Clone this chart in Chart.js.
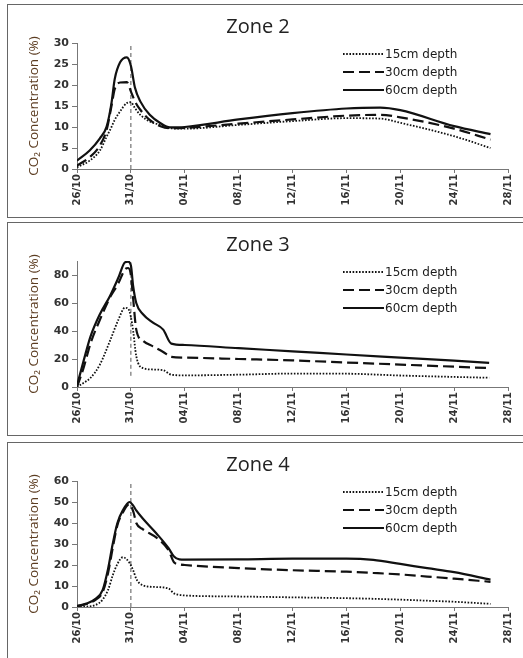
<!DOCTYPE html>
<html>
<head>
<meta charset="utf-8">
<script src="https://cdn.jsdelivr.net/npm/chart.js@4.4.0/dist/chart.umd.min.js"></script>
<style>
  body { margin: 0; background: #fff; width: 523px; height: 658px; overflow: hidden; position: relative; }
  .panel { position: absolute; left: 7px; width: 530px; border: 1px solid #666; background: #fff; }
  .panel canvas { display: block; }
</style>
</head>
<body>
<div class="panel" style="top:4px;height:212px"><canvas id="zone2" width="515" height="212"></canvas></div>
<div class="panel" style="top:222px;height:212px"><canvas id="zone3" width="515" height="212"></canvas></div>
<div class="panel" style="top:442px;height:240px"><canvas id="zone4" width="515" height="212"></canvas></div>
<script>
// x values are in axis units: 4 units between each date label
const dateLabels = ['26/10', '31/10', '04/11', '08/11', '12/11', '16/11', '20/11', '24/11', '28/11'];
const markerDay = 4; // 31/10

// Zone 2
const z2Days = [0, 0.94, 1.7, 2.2, 2.56, 2.8, 3.2, 3.7, 4.0, 4.3, 4.7, 5.4, 6.2, 6.9, 8, 12, 16, 20, 22.5, 24, 28, 30.7];
const z2Depth15 = [0.4, 2.0, 4.4, 7.7, 10, 11.7, 13.7, 15.7, 15.9, 14.5, 12.9, 11.3, 10.5, 9.7, 9.6, 10.5, 11.4, 12.1, 12.0, 11.0, 7.8, 5.0];
const z2Depth30 = [0.8, 2.8, 5.6, 9.3, 15, 19, 20.6, 20.7, 18.5, 16.1, 14.1, 11.7, 10.2, 9.7, 9.8, 10.8, 11.8, 12.7, 12.9, 12.3, 9.6, 7.0];
const z2Depth60 = [2.0, 4.4, 7.3, 10.1, 15.7, 21.4, 25.4, 26.6, 24.6, 19.4, 16.1, 12.9, 10.9, 9.9, 10.0, 11.8, 13.3, 14.4, 14.6, 14.0, 10.2, 8.3];
const z2Marker = [0, 30];

// Zone 3
const z3Days = [0, 0.5, 1.0, 1.7, 2.45, 3.07, 3.56, 3.8, 4.0, 4.17, 4.4, 4.9, 5.64, 6.4, 7.0, 8, 12, 16, 20, 24, 28, 30.6];
const z3Depth15 = [0, 3, 6.5, 16, 33, 48, 56.6, 56, 50, 40, 22, 13.5, 12.5, 12, 8.8, 8.3, 8.8, 9.6, 9.5, 8.2, 7.2, 6.6];
const z3Depth30 = [0, 14, 31, 48, 64, 74, 84, 85, 80, 63, 41, 33, 29, 25, 21.5, 21, 20, 19, 17.5, 16, 14.5, 13.5];
const z3Depth60 = [1, 19, 36, 52, 65, 78, 89, 89.5, 87, 72, 60, 52, 46, 41, 31, 30, 27.7, 25.5, 23.2, 21, 18.8, 17.3];
const z3Marker = [8, 89];

// Zone 4
const z4Days = [0, 0.7, 1.4, 1.9, 2.3, 2.65, 3.0, 3.4, 3.9, 4.2, 4.4, 4.9, 5.9, 6.8, 7.2, 7.6, 8, 12, 16, 20, 22, 24, 26, 28, 30.7];
const z4Depth15 = [0, 0.2, 1, 3.5, 8, 15, 20.5, 23.7, 21, 17, 13.4, 10.3, 9.5, 8.8, 6.5, 5.8, 5.5, 5, 4.6, 4.2, 3.9, 3.5, 3, 2.5, 1.5];
const z4Depth30 = [0.3, 1.4, 3.5, 7, 16, 28, 39, 45, 49, 45, 40, 37, 33, 27, 21.3, 20.3, 20, 18.5, 17.5, 16.8, 16.2, 15.5, 14.5, 13.5, 12];
const z4Depth60 = [0.5, 1.6, 4, 8, 18, 30, 40, 46, 50, 48, 46, 42, 35, 28, 24, 22.7, 22.6, 22.7, 23, 23, 22.4, 20.5, 18.5, 16.6, 13];
const z4Marker = [0, 60];

// legend drawn inside the plot, top right
const insideLegend = {
  id: 'insideLegend',
  afterDraw(chart) {
    const ctx = chart.ctx;
    ctx.save();
    ctx.font = '12px "DejaVu Sans"';
    ctx.fillStyle = '#1a1a1a';
    ctx.textBaseline = 'middle';
    let row = 0;
    chart.data.datasets.forEach(ds => {
      if (!ds.label) return;
      const y = 49 + row * 18;
      ctx.strokeStyle = ds.borderColor;
      ctx.lineWidth = ds.borderWidth;
      ctx.setLineDash(ds.borderDash);
      ctx.beginPath();
      ctx.moveTo(335, y);
      ctx.lineTo(376, y);
      ctx.stroke();
      ctx.setLineDash([]);
      ctx.fillText(ds.label, 377, y + 1);
      row++;
    });
    ctx.restore();
  }
};

function makeZone(id, title, days, d15, d30, d60, yMax, yStep, marker) {
  const pts = arr => days.map((d, i) => ({ x: d, y: arr[i] }));
  const line = (label, arr, dash, width) => ({
    label: label,
    data: pts(arr),
    borderColor: '#111',
    borderWidth: width,
    borderDash: dash,
    pointRadius: 0,
    cubicInterpolationMode: 'monotone',
    fill: false
  });

  return new Chart(document.getElementById(id), {
    type: 'line',
    data: {
      datasets: [
        line('15cm depth', d15, [1.6, 1.6], 1.8),
        line('30cm depth', d30, [11, 5], 2.2),
        line('60cm depth', d60, [], 2.2),
        {
          data: [{ x: markerDay, y: marker[0] }, { x: markerDay, y: marker[1] }],
          borderColor: '#555',
          borderWidth: 1,
          borderDash: [4, 3],
          pointRadius: 0
        }
      ]
    },
    options: {
      responsive: false,
      animation: false,
      devicePixelRatio: 1,
      layout: { padding: { left: 0, right: 15, top: 0, bottom: 0 } },
      plugins: {
        legend: { display: false },
        tooltip: { enabled: false },
        title: {
          display: true,
          text: title,
          color: '#222',
          font: { family: 'Open Sans', size: 20, weight: 'normal' },
          padding: { top: 10, bottom: 4 }
        }
      },
      scales: {
        x: {
          type: 'linear',
          min: 0,
          max: 32,
          ticks: {
            stepSize: 4,
            autoSkip: false,
            minRotation: 90,
            maxRotation: 90,
            padding: 1,
            color: '#333',
            font: { family: 'DejaVu Sans', size: 10, weight: 'bold' },
            callback: v => dateLabels[v / 4]
          },
          grid: { drawOnChartArea: false, tickLength: 4, color: '#777' },
          border: { color: '#777' },
          afterFit: s => { s.height = 48; }
        },
        y: {
          min: 0,
          max: yMax,
          ticks: {
            stepSize: yStep,
            includeBounds: false,
            padding: 3,
            color: '#333',
            font: { family: 'DejaVu Sans', size: 11, weight: 'bold' }
          },
          grid: { drawOnChartArea: false, tickLength: 5, color: '#777' },
          border: { color: '#777' },
          title: {
            display: true,
            text: 'CO₂ Concentration (%)',
            color: '#5c3d22',
            font: { family: 'Open Sans', size: 13.5 },
            padding: { top: 18, bottom: 0 }
          },
          afterFit: s => { s.width = 69; }
        }
      }
    },
    plugins: [insideLegend]
  });
}

makeZone('zone2', 'Zone 2', z2Days, z2Depth15, z2Depth30, z2Depth60, 30, 5, z2Marker);
makeZone('zone3', 'Zone 3', z3Days, z3Depth15, z3Depth30, z3Depth60, 90, 20, z3Marker);
makeZone('zone4', 'Zone 4', z4Days, z4Depth15, z4Depth30, z4Depth60, 60, 10, z4Marker);
</script>
</body>
</html>
